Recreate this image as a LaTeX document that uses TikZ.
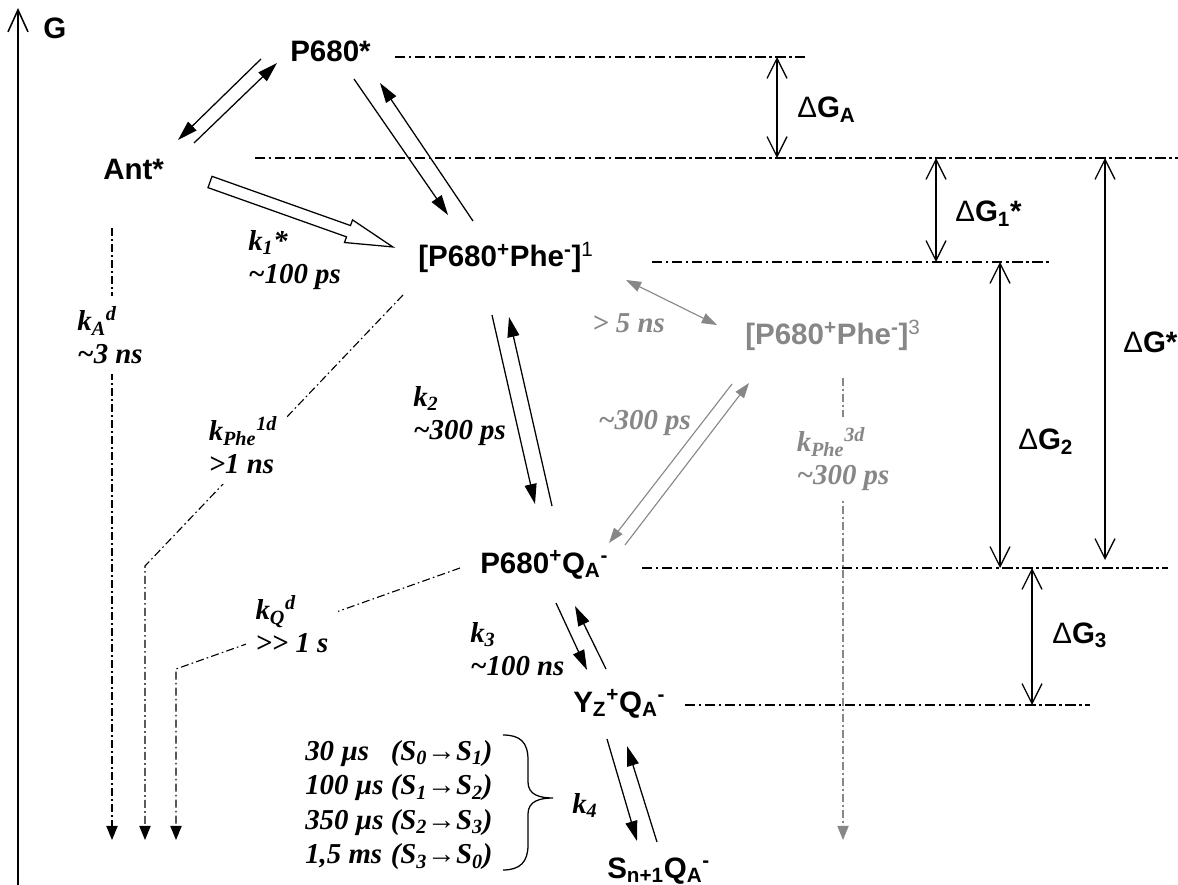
\documentclass[tikz,border=0pt]{standalone}
\usepackage{fontspec}
\setmainfont{Liberation Serif}
\newfontfamily\arial{Liberation Sans}
\usetikzlibrary{arrows.meta,calc}
\definecolor{Faint}{HTML}{878787}

\tikzset{
  state/.style={font=\arial\bfseries\fontsize{21}{25}\selectfont, inner sep=0pt, anchor=base west},
  rate/.style={font=\bfseries\itshape\fontsize{20.5}{23.5}\selectfont, inner sep=0pt, anchor=north west, align=left},
  decaylabel/.style={rate, anchor=center, fill=white, inner sep=7pt},
  fwd/.style={line width=0.9pt, -{Triangle[length=5mm,width=3mm]}},
  fwdgray/.style={line width=0.8pt, draw=Faint, -{Triangle[length=3.8mm,width=2.6mm]}},
  level/.style={line width=0.9pt, dash pattern=on 2.6mm off 0.9mm on 0.6mm off 0.9mm},
  decay/.style={line width=0.8pt, dash pattern=on 2mm off 0.8mm on 0.4mm off 0.8mm, -{Triangle[length=3.5mm,width=2.8mm]}},
  dim/.style={line width=0.9pt, {Straight Barb[length=5mm,width=5mm]}-{Straight Barb[length=5mm,width=5mm]}},
  axis/.style={line width=1.1pt, -{Straight Barb[length=5.5mm,width=5mm]}}
}

\begin{document}
\begin{tikzpicture}[x=0.025cm, y=-0.025cm]
\useasboundingbox (0,0) rectangle (1178,885);

% energy axis
\coordinate (axbot) at (18,885);
\coordinate (axtop) at (18,8);
\draw[axis] (axbot) -- (axtop);
\node[state] (G) at (43,39) {G};

% states
\node[state] (Ant) at (103,180) {Ant*};
\node[state] (P680s) at (290,62) {P680*};
\node[state] (Phe1) at (418,267) {[P680\textsuperscript{+}Phe\textsuperscript{-}]\textsuperscript{\mdseries 1}};
\node[state, text=Faint] (Phe3) at (745,345) {[P680\textsuperscript{+}Phe\textsuperscript{-}]\textsuperscript{\mdseries 3}};
\node[state] (PQ) at (480,573) {P680\textsuperscript{+}Q\textsubscript{A}\textsuperscript{-}};
\node[state] (YQ) at (573,712) {Y\textsubscript{Z}\textsuperscript{+}Q\textsubscript{A}\textsuperscript{-}};
\node[state] (SQ) at (607,878) {S\textsubscript{n+1}Q\textsubscript{A}\textsuperscript{-}};

% energy levels
\draw[level] ([shift={(24,-5)}]P680s.base east) coordinate (lvA) -- ++(410,0);
\draw[level] ([shift={(152,-22)}]Ant.base west) coordinate (lvAnt) -- ++(923,0);
\draw[level] ([shift={(234,-5)}]Phe1.base west) coordinate (lv1) -- ++(400,0);
\draw[level] ([shift={(162,-5)}]PQ.base west) coordinate (lv2) -- ++(526,0);
\draw[level] ([shift={(112,-7)}]YQ.base west) coordinate (lv3) -- ++(405,0);

% energy gaps
\coordinate (dA) at (777,0);
\coordinate (d1) at (936,0);
\coordinate (d2) at (1000,0);
\coordinate (d3) at (1032,0);
\coordinate (dS) at (1105,0);
\draw[dim] (lvA -| dA) -- (lvAnt -| dA);
\draw[dim] (lvAnt -| d1) -- (lv1 -| d1);
\draw[dim] (lv1 -| d2) -- (lv2 -| d2);
\draw[dim] (lv2 -| d3) -- (lv3 -| d3);
\draw[dim, shorten >=2mm] (lvAnt -| dS) -- (lv2 -| dS);
\node[state] (dGA) at (797,118) {{\mdseries Δ}G\textsubscript{A}};
\node[state] (dG1) at (955,222) {{\mdseries Δ}G\textsubscript{1}*};
\node[state] (dG2) at (1018,450) {{\mdseries Δ}G\textsubscript{2}};
\node[state] (dG3) at (1052,643) {{\mdseries Δ}G\textsubscript{3}};
\node[state] (dGS) at (1123,353) {{\mdseries Δ}G*};

% forward and back reactions
\foreach \a/\ax/\ay/\b/\bx/\by in {Ant/91/-37/P680s/-13/1, P680s/-29/-3/Ant/75/-40,
    P680s/64/17/Phe1/30/-52, Phe1/55/-46/P680s/90/21,
    Phe1/74/48/PQ/55/-69, PQ/72/-67/Phe1/91/50,
    PQ/76/30/YQ/14/-42, YQ/33/-43/PQ/95/33,
    YQ/34/27/SQ/30/-37, SQ/50/-36/YQ/54/34}
  {\draw[fwd] ([shift={(\ax,\ay)}]\a.base west) -- ([shift={(\bx,\by)}]\b.base west);}
\foreach \a/\ax/\ay/\b/\bx/\by in {Phe3/-13/39/PQ/129/-30, PQ/145/-28/Phe3/4/38}
  {\draw[fwdgray] ([shift={(\ax,\ay)}]\a.base west) -- ([shift={(\bx,\by)}]\b.base west);}
\draw[fwdgray, {Triangle[length=3.8mm,width=2.6mm]}-{Triangle[length=3.8mm,width=2.6mm]}]
  ([shift={(208,13)}]Phe1.base west) -- ([shift={(-28,-20)}]Phe3.base west);

% energy transfer Ant* -> P680+Phe-
\coordinate (holtail) at ([shift={(107,2)}]Ant.base west);
\begin{scope}[shift={(holtail)}, rotate=-19.56]
\draw[line width=0.9pt, fill=white] (0,-6) -- (147,-6) -- (147,-12) -- (194,0) -- (147,12) -- (147,6) -- (0,6) -- cycle;
\end{scope}

% decay to ground
\coordinate (gndA) at (112,840);
\coordinate (bendP) at (145,566);
\coordinate (gndP) at (145,840);
\coordinate (bendQ) at (176,669);
\coordinate (gndQ) at (176,840);
\coordinate (gnd3) at (843,840);
\draw[decay] ([shift={(9,48)}]Ant.base west) -- (gndA);
\draw[decay] ([shift={(-15,28)}]Phe1.base west) -- (bendP) -- (gndP);
\draw[decay] ([shift={(-20,-5)}]PQ.base west) -- (bendQ) -- (gndQ);
\draw[decay, draw=Faint, fill=Faint] ([shift={(98,33)}]Phe3.base west) -- (gnd3);

% rates
\node[rate] (k1) at (248,230) {k\textsubscript{1}*\\\textasciitilde 100 ps};
\node[rate] (k2) at (413,386) {k\textsubscript{2}\\\textasciitilde 300 ps};
\node[rate] (k3) at (470,622) {k\textsubscript{3}\\\textasciitilde 100 ns};
\node[rate, text=Faint] (t5) at (592,313) {> 5 ns};
\node[rate, text=Faint] (t300) at (598,410) {\textasciitilde 300 ps};
\node[rate] (k4) at (572,793) {k\textsubscript{4}};
\node[decaylabel] (kA) at (110,335) {k\textsubscript{A}\textsuperscript{d}\\\textasciitilde 3 ns};
\node[decaylabel] (kP1) at (243,445) {k\textsubscript{Phe}\textsuperscript{1d}\\{>}1 ns};
\node[decaylabel] (kQ) at (292,624) {k\textsubscript{Q}\textsuperscript{d}\\{>}{>} 1 s};
\node[decaylabel, text=Faint] (kP3) at (843,459) {k\textsubscript{Phe}\textsuperscript{3d}\\\textasciitilde 300 ps};

% S-state transitions
\node[rate] (Slist) at (305,737) {\begin{tabular}{@{}l@{ }l@{}}
30 µs & (S\textsubscript{0}→S\textsubscript{1})\\[1pt]
100 µs & (S\textsubscript{1}→S\textsubscript{2})\\[1pt]
350 µs & (S\textsubscript{2}→S\textsubscript{3})\\[1pt]
1,5 ms & (S\textsubscript{3}→S\textsubscript{0})
\end{tabular}};
\draw[line width=0.9pt] (503,735) .. controls (520,735) and (528,742) .. (528,760) -- (528,782)
  .. controls (528,795) and (540,798) .. (553,798) .. controls (540,798) and (528,801) .. (528,814)
  -- (528,845) .. controls (528,862) and (520,870) .. (503,870);
\end{tikzpicture}
\end{document}
